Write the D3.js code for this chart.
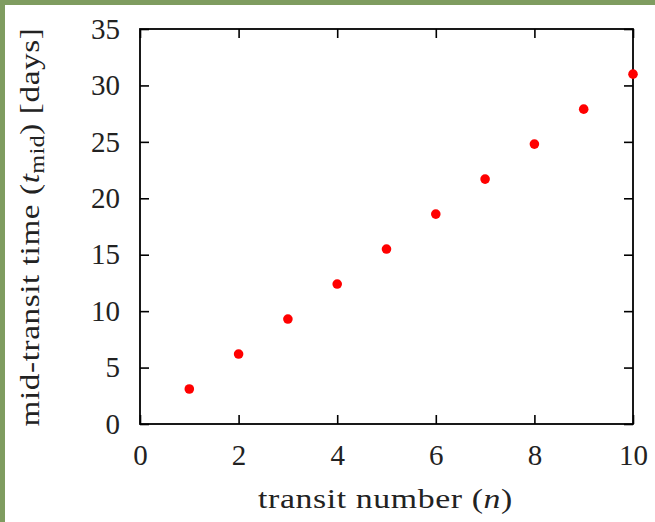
<!DOCTYPE html>
<html>
<head>
<meta charset="utf-8">
<script src="https://cdn.jsdelivr.net/npm/d3@7/dist/d3.min.js"></script>
<style>
  html, body { margin: 0; padding: 0; background: #fff; }
  svg { display: block; }
  text { font-family: "Liberation Serif", "DejaVu Serif", serif; fill: #222; }
</style>
</head>
<body>
<script>
// Transit number vs. mid-transit time
const transitNumbers = [1, 2, 3, 4, 5, 6, 7, 8, 9, 10];
const midTransitDays = [3.1, 6.2, 9.3, 12.4, 15.5, 18.6, 21.7, 24.8, 27.9, 31.0];
const xTicks = [0, 2, 4, 6, 8, 10];
const yTicks = [0, 5, 10, 15, 20, 25, 30, 35];

const W = 655, H = 522;
const margin = { left: 140, top: 29, right: 22, bottom: 98 };
const iw = W - margin.left - margin.right;
const ih = H - margin.top - margin.bottom;

const svg = d3.select("body").append("svg").attr("width", W).attr("height", H);

// green page border along the top and left edges
svg.append("rect").attr("x", 0).attr("y", 0).attr("width", W).attr("height", 5).attr("fill", "#7f9c60");
svg.append("rect").attr("x", 0).attr("y", 0).attr("width", 5).attr("height", H).attr("fill", "#7f9c60");

const g = svg.append("g").attr("transform", `translate(${margin.left},${margin.top})`);

const x = d3.scaleLinear().domain([0, 10]).range([0, iw]);
const y = d3.scaleLinear().domain([0, 35]).range([ih, 0]);

const tickLen = 9;
const fontSize = 29;

function styleAxis(sel, showLabels) {
  sel.attr("font-family", null);
  sel.select(".domain").remove();
  sel.selectAll(".tick line").attr("stroke", "#000").attr("stroke-width", 1.6);
  sel.selectAll(".tick text")
    .style("font-family", '"Liberation Serif", serif')
    .style("font-size", fontSize + "px")
    .attr("fill", "#222");
  if (!showLabels) sel.selectAll(".tick text").remove();
}

// bottom axis (ticks point inward)
g.append("g").attr("transform", `translate(0,${ih})`)
  .call(d3.axisBottom(x).tickValues(xTicks).tickSize(-tickLen).tickPadding(tickLen + 11).tickFormat(d3.format("d")))
  .call(s => styleAxis(s, true));
// top axis mirror ticks
g.append("g")
  .call(d3.axisTop(x).tickValues(xTicks).tickSize(-tickLen))
  .call(s => styleAxis(s, false));
// left axis
g.append("g")
  .call(d3.axisLeft(y).tickValues(yTicks).tickSize(-tickLen).tickPadding(tickLen + 11).tickFormat(d3.format("d")))
  .call(s => styleAxis(s, true));
// right axis mirror ticks
g.append("g").attr("transform", `translate(${iw},0)`)
  .call(d3.axisRight(y).tickValues(yTicks).tickSize(-tickLen))
  .call(s => styleAxis(s, false));

// plot frame
g.append("rect").attr("x", 0).attr("y", 0).attr("width", iw).attr("height", ih)
  .attr("fill", "none").attr("stroke", "#000").attr("stroke-width", 1.8);

// data points
g.selectAll("circle.pt").data(transitNumbers)
  .join("circle").attr("class", "pt")
  .attr("cx", d => x(d))
  .attr("cy", (d, i) => y(midTransitDays[i]))
  .attr("r", 4.8)
  .attr("fill", "#ff0000");

// stretch a title horizontally (in its own frame) to a target length
function fitWidth(textSel, target) {
  const w = textSel.node().getBBox().width;
  return target / w;
}

// x-axis title
const xtG = svg.append("g");
const xt = xtG.append("text")
  .attr("x", 0).attr("y", 0)
  .attr("text-anchor", "middle")
  .style("font-size", "28px")
  .style("letter-spacing", "0.5px");
xt.append("tspan").text("transit number (");
xt.append("tspan").style("font-style", "italic").text("n");
xt.append("tspan").text(")");
const sx = fitWidth(xt, 255);
xtG.attr("transform", `translate(385.5,508) scale(${sx},1)`);

// y-axis title
const ytG = svg.append("g");
const yt = ytG.append("text")
  .attr("x", 0).attr("y", 0)
  .attr("text-anchor", "middle")
  .style("font-size", "28px")
  .style("letter-spacing", "0.5px");
yt.append("tspan").text("mid-transit time (");
yt.append("tspan").style("font-style", "italic").text("t");
yt.append("tspan").attr("baseline-shift", "-28%").style("font-size", "20px").text("mid");
yt.append("tspan").text(") [days]");
const sy = fitWidth(yt, 399);
ytG.attr("transform", `translate(39,227) rotate(-90) scale(${sy},1)`);
</script>
</body>
</html>
